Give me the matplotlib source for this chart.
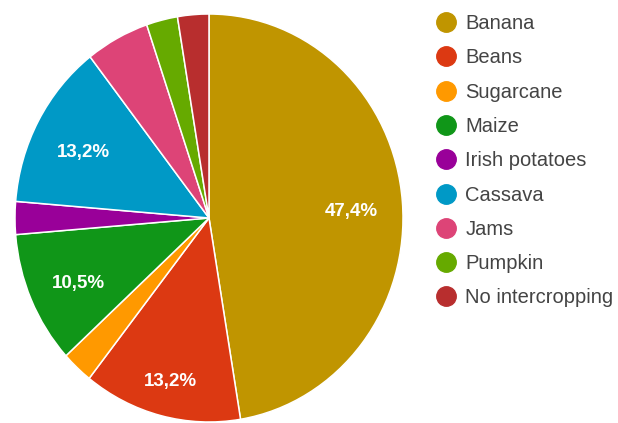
import numpy as np
import matplotlib.pyplot as plt
import matplotlib.transforms as mtransforms
from matplotlib.lines import Line2D

# Intercropping crops (share of respondents, %)
categories = ["Banana", "Beans", "Sugarcane", "Maize", "Irish potatoes",
              "Cassava", "Jams", "Pumpkin", "No intercropping"]
shares = [47.4, 13.2, 2.6, 10.5, 2.6, 13.2, 5.3, 2.6, 2.6]
colors = ["#c09500", "#dc3912", "#ff9900", "#109618", "#990099",
          "#0099c6", "#dd4477", "#66aa00", "#b82e2e"]


def pct_label(p):
    # only the bigger slices get a label, with a decimal comma
    if p < 8:
        return ""
    return f"{p:.1f}%".replace(".", ",")


fig = plt.figure(figsize=(6.18, 4.23), dpi=100)
ax = fig.add_axes([15 / 618, 1 / 423, 388 / 618, 408 / 423])

wedges, texts, autotexts = ax.pie(
    shares, colors=colors, startangle=90, counterclock=False,
    autopct=pct_label, pctdistance=0.735,
    wedgeprops=dict(edgecolor="white", linewidth=1.1),
    textprops=dict(color="white", fontsize=13.5, fontweight="bold",
                   family="Liberation Sans"),
)
ax.set_aspect("auto")
ax.set_xlim(-1, 1)
ax.set_ylim(-1, 1)

# labels sit a little lower than the slice centre line
shift = mtransforms.ScaledTranslation(0, -4 / 72, fig.dpi_scale_trans)
for i, t in enumerate(autotexts):
    t.set_transform(ax.transData + shift)
    # Beans label sits a bit further out, like in the original
    if categories[i] == "Beans":
        w = wedges[i]
        mid = np.deg2rad((w.theta1 + w.theta2) / 2)
        t.set_position((0.80 * np.cos(mid), 0.80 * np.sin(mid)))

handles = [Line2D([], [], marker="o", linestyle="", markersize=14,
                  markerfacecolor=c, markeredgecolor=c) for c in colors]
fig.legend(handles, categories, loc="upper left",
           bbox_to_anchor=(426 / 618, 1 - 6 / 423), frameon=False,
           prop=dict(family="Liberation Sans", size=14.5),
           labelcolor="#444444", handletextpad=0.35, labelspacing=0.76,
           handlelength=1.2, borderaxespad=0)

plt.savefig("out.png", dpi=100)
